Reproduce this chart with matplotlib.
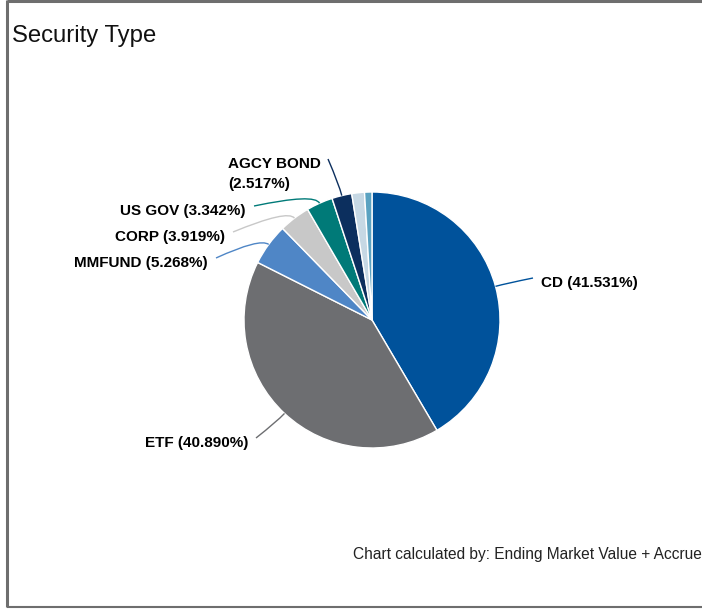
import numpy as np
import matplotlib
matplotlib.use("Agg")
import matplotlib.pyplot as plt
from matplotlib.path import Path
from matplotlib.patches import PathPatch

plt.rcParams['font.family'] = ['Liberation Sans', 'DejaVu Sans']

# data
categories = ["CD", "ETF", "MMFUND", "CORP", "US GOV", "AGCY BOND", "OTHER 1", "OTHER 2"]
shares = [41.531, 40.890, 5.268, 3.919, 3.342, 2.517, 1.600, 0.933]
show_label = [True, True, True, True, True, True, False, False]
colors = ["#00529b", "#6d6e71", "#4f86c6", "#c8c8c8", "#007a78", "#0c2f5e",
          "#c6d8e4", "#5aa2c1"]

W, H = 702, 609
fig = plt.figure(figsize=(W / 100, H / 100), dpi=100)
ax = fig.add_axes([0, 0, 1, 1])


def py(y):
    # pixel row -> data y
    return H - y


cx, cy, r = 372, py(320), 128
wedges, _ = ax.pie(shares, colors=colors, startangle=90, counterclock=False,
                   center=(cx, cy), radius=r, frame=True,
                   wedgeprops=dict(edgecolor="white", linewidth=1))
ax.set_xlim(0, W)
ax.set_ylim(0, H)
ax.axis("off")

# label anchor (the end nearest the connector), alignment
label_pos = {
    "CD": (541, 283, "left"),
    "ETF": (248, 443, "right"),
    "MMFUND": (208, 263, "right"),
    "CORP": (225, 237, "right"),
    "US GOV": (246, 211, "right"),
    "AGCY BOND": (321, 174, "right"),
}

for w, name, pct, show in zip(wedges, categories, shares, show_label):
    if not show:
        continue
    ang = np.deg2rad((w.theta1 + w.theta2) / 2)
    ex, ey = cx + r * np.cos(ang), cy + r * np.sin(ang)
    kx, ky = cx + (r + 11) * np.cos(ang), cy + (r + 11) * np.sin(ang)
    tx, ty, ha = label_pos[name]
    if name == "AGCY BOND":
        txt = f"{name}\n({pct:.3f}%)"
        sx, sy = tx + 7, py(159)
    else:
        txt = f"{name} ({pct:.3f}%)"
        sx = tx + 8 if ha == "right" else tx - 8
        sy = py(ty - 5)
    ax.text(tx, py(ty), txt, ha=ha, va="center", multialignment="left",
            fontsize=11, fontweight="bold", color="#000000", linespacing=1.55)
    path = Path([(sx, sy), (kx, ky), (ex, ey)],
                [Path.MOVETO, Path.CURVE3, Path.CURVE3])
    ax.add_patch(PathPatch(path, facecolor="none", edgecolor=w.get_facecolor(),
                           linewidth=1))

ax.text(12, py(36), "Security Type", fontsize=17.2, ha="left", va="center",
        color="#111111")
# footer is cut off at the panel edge in the original
ax.text(353, py(554), "Chart calculated by: Ending Market Value + Accrue",
        fontsize=11.2, ha="left", va="center", color="#222222")

# frame around the panel
border = "#6e6e6e"
ax.plot([7, 7], [py(0), py(607)], color=border, lw=2.2, solid_capstyle="butt")
ax.plot([7, W], [py(1), py(1)], color=border, lw=2.2, solid_capstyle="butt")
ax.plot([7, W], [py(607), py(607)], color=border, lw=1.5, solid_capstyle="butt")

fig.savefig("out.png", dpi=100)
